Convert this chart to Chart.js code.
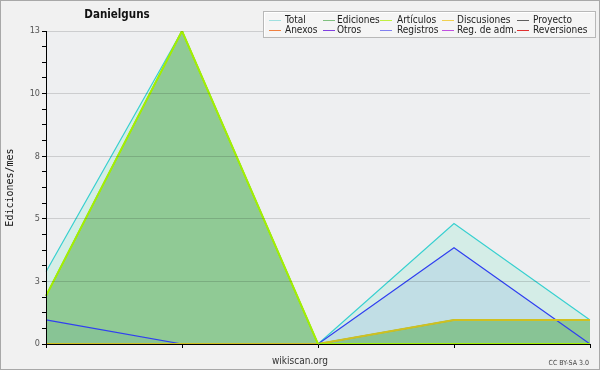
<!DOCTYPE html>
<html>
<head>
<meta charset="utf-8">
<script src="https://cdn.jsdelivr.net/npm/chart.js@4/dist/chart.umd.min.js"></script>
<style>
  html, body { margin: 0; padding: 0; background: #f0f0f0; }
  #wrap { position: relative; width: 598px; height: 368px; border: 1px solid #a8a8a8; background: #f1f1f1; }
  canvas { position: absolute; left: -1px; top: -1px; }
</style>
</head>
<body>
<div id="wrap"><canvas id="c" width="600" height="370"></canvas></div>
<script>
// ---- data ----
const periods = ['1', '2', '3', '4', '5'];
const seriesLabels = ['Total', 'Ediciones', 'Artículos', 'Discusiones', 'Proyecto',
                      'Anexos', 'Otros', 'Registros', 'Reg. de adm.', 'Reversiones'];
const total       = [3, 13, 0, 5, 1];
const ediciones   = [2, 13, 0, 1, 1];
const articulos   = [2, 13, 0, 0, 0];
const discusiones = [0, 0, 0, 1, 1];
const proyecto    = [0, 0, 0, 0, 0];
const anexos      = [0, 0, 0, 0, 0];
const otros       = [0, 0, 0, 0, 0];
const registros   = [1, 0, 0, 4, 0];
const regAdm      = [0, 0, 0, 0, 0];
const reversiones = [0, 0, 0, 0, 0];
const yTickLabels = [0, 3, 5, 8, 10, 13];
const yMax = 13;
const chartTitle = 'Danielguns';
const yTitle = 'Ediciones/mes';
const xTitle = 'wikiscan.org';
const credit = 'CC BY-SA 3.0';

// ---- styles ----
const legendColors = ['#a0e0e0', '#80c080', '#c0f040', '#f0d050', '#606060',
                      '#f08040', '#8040e0', '#8080f0', '#c050e0', '#e03030'];
const COND = "'DejaVu Sans Condensed', 'DejaVu Sans', sans-serif";

function ds(label, data, color, width, fill, bg, order) {
  return {
    label, data, borderColor: color, borderWidth: width,
    backgroundColor: bg || 'transparent', fill: fill ? 'origin' : false,
    pointRadius: 0, pointHoverRadius: 0, tension: 0, order
  };
}

const datasets = [
  ds(seriesLabels[0], total, '#38d0d0', 1.2, true, 'rgba(170,235,215,0.38)', 20),
  ds(seriesLabels[1], ediciones, '#60b060', 1.5, true, 'rgba(99,178,95,0.6)', 8),
  ds(seriesLabels[2], articulos, '#a4f000', 2, false, null, 4),
  ds(seriesLabels[3], discusiones, '#d0c020', 2, false, null, 5),
  ds(seriesLabels[4], proyecto, '#606060', 1, false, null, 12),
  ds(seriesLabels[5], anexos, '#f08040', 1, false, null, 12),
  ds(seriesLabels[6], otros, '#8040e0', 1, false, null, 12),
  ds(seriesLabels[7], registros, '#3040f0', 1.2, true, 'rgba(149,188,225,0.3)', 9),
  ds(seriesLabels[8], regAdm, '#c050e0', 1, false, null, 12),
  ds(seriesLabels[9], reversiones, '#e03030', 1, false, null, 12)
];

const decor = {
  id: 'decor',
  beforeDraw(chart) {
    const { ctx, chartArea: a } = chart;
    ctx.save();
    ctx.fillStyle = '#eeeff1';
    ctx.fillRect(a.left, a.top, a.right - a.left, a.bottom - a.top);
    ctx.restore();
  },
  afterDraw(chart) {
    const { ctx, chartArea: a } = chart;
    ctx.save();
    // title
    ctx.fillStyle = '#111';
    ctx.font = "bold 11.5px " + COND;
    ctx.textAlign = 'center';
    ctx.textBaseline = 'alphabetic';
    ctx.fillText(chartTitle, 117, 18);
    // y title
    ctx.save();
    ctx.translate(13, (a.top + a.bottom) / 2);
    ctx.rotate(-Math.PI / 2);
    ctx.font = "10px 'DejaVu Sans Mono', monospace";
    ctx.fillStyle = '#111';
    ctx.textAlign = 'center';
    ctx.fillText(yTitle, 0, 0);
    ctx.restore();
    // x title
    ctx.font = "10px " + COND;
    ctx.fillStyle = '#333';
    ctx.textAlign = 'center';
    ctx.fillText(xTitle, 300, 364);
    // credit
    ctx.font = "7px " + COND;
    ctx.fillStyle = '#444';
    ctx.textAlign = 'right';
    ctx.fillText(credit, 589, 365);
    // legend box
    ctx.fillStyle = '#f5f5f5';
    ctx.fillRect(263, 11, 332, 27);
    ctx.strokeStyle = '#b8b8b8';
    ctx.lineWidth = 1;
    ctx.strokeRect(263.5, 11.5, 332, 26);
    ctx.strokeStyle = '#ffffff';
    ctx.beginPath();
    ctx.moveTo(264.5, 36.5); ctx.lineTo(264.5, 12.5); ctx.lineTo(594.5, 12.5);
    ctx.stroke();
    const lineX = [269, 323, 380, 442, 517];
    const textX = [285, 337, 397, 457, 533];
    ctx.font = "10px " + COND;
    ctx.textAlign = 'left';
    seriesLabels.forEach((lab, i) => {
      const col = i % 5, row = Math.floor(i / 5);
      const ly = 20.5 + row * 10;
      ctx.strokeStyle = legendColors[i];
      ctx.beginPath();
      ctx.moveTo(lineX[col], ly); ctx.lineTo(lineX[col] + 12, ly);
      ctx.stroke();
      ctx.fillStyle = '#222';
      ctx.fillText(lab, textX[col], 23 + row * 10);
    });
    ctx.restore();
  }
};

new Chart(document.getElementById('c'), {
  type: 'line',
  data: { labels: periods, datasets },
  options: {
    responsive: false,
    animation: false,
    devicePixelRatio: 1,
    layout: { padding: { top: 31, right: 10, left: 0, bottom: 0 } },
    plugins: {
      legend: { display: false },
      title: { display: false },
      tooltip: { enabled: false },
      filler: { drawTime: 'beforeDatasetsDraw' }
    },
    scales: {
      x: {
        offset: false,
        afterFit(s) { s.height = 26; },
        grid: { display: true, drawOnChartArea: false, drawTicks: true, tickLength: 4, tickColor: '#000', z: 1 },
        border: { display: true, color: '#000', width: 1, z: 1 },
        ticks: { callback: () => '', padding: 0 }
      },
      y: {
        min: 0, max: yMax,
        afterFit(s) { s.width = 46; },
        afterBuildTicks(s) {
          const t = [];
          for (let i = 0; i <= 20; i++) t.push({ value: yMax * i / 20 });
          s.ticks = t;
        },
        grid: {
          z: 1,
          drawTicks: true, tickLength: 4, tickColor: '#000',
          color: (c) => (c.index % 4 === 0 && c.index > 0) ? 'rgba(0,0,0,0.14)' : 'rgba(0,0,0,0)',
          lineWidth: 1
        },
        border: { display: true, color: '#000', width: 1, z: 1 },
        ticks: {
          autoSkip: false,
          padding: 2,
          color: '#555',
          font: { family: COND, size: 9 },
          callback: (v, i) => (i % 4 === 0) ? String(yTickLabels[i / 4]) : ''
        }
      }
    }
  },
  plugins: [decor]
});
</script>
</body>
</html>
